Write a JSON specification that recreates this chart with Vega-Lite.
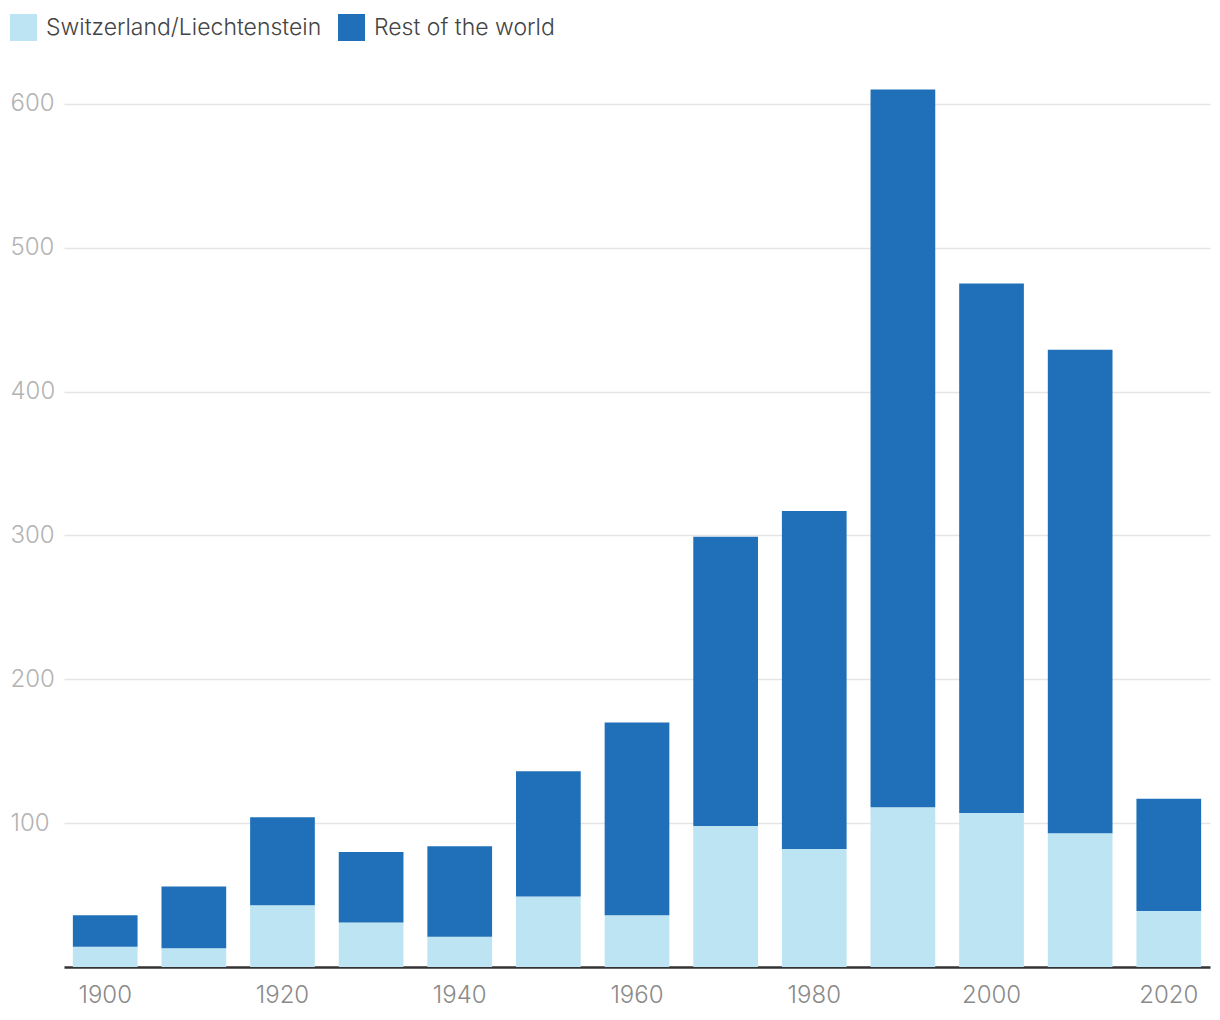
{
  "$schema": "https://vega.github.io/schema/vega-lite/v6.json",
  "width": 1146,
  "height": 892,
  "autosize": {"type": "none"},
  "padding": {"left": 64, "top": 75, "right": 10, "bottom": 53},
  "background": "white",
  "config": {"view": {"stroke": null}, "font": "Inter"},
  "data": {"values": [
    {"decade": "1900", "group": "Switzerland/Liechtenstein", "o": 1, "value": 14},
    {"decade": "1900", "group": "Rest of the world", "o": 2, "value": 22},
    {"decade": "1910", "group": "Switzerland/Liechtenstein", "o": 1, "value": 13},
    {"decade": "1910", "group": "Rest of the world", "o": 2, "value": 43},
    {"decade": "1920", "group": "Switzerland/Liechtenstein", "o": 1, "value": 43},
    {"decade": "1920", "group": "Rest of the world", "o": 2, "value": 61},
    {"decade": "1930", "group": "Switzerland/Liechtenstein", "o": 1, "value": 31},
    {"decade": "1930", "group": "Rest of the world", "o": 2, "value": 49},
    {"decade": "1940", "group": "Switzerland/Liechtenstein", "o": 1, "value": 21},
    {"decade": "1940", "group": "Rest of the world", "o": 2, "value": 63},
    {"decade": "1950", "group": "Switzerland/Liechtenstein", "o": 1, "value": 49},
    {"decade": "1950", "group": "Rest of the world", "o": 2, "value": 87},
    {"decade": "1960", "group": "Switzerland/Liechtenstein", "o": 1, "value": 36},
    {"decade": "1960", "group": "Rest of the world", "o": 2, "value": 134},
    {"decade": "1970", "group": "Switzerland/Liechtenstein", "o": 1, "value": 98},
    {"decade": "1970", "group": "Rest of the world", "o": 2, "value": 201},
    {"decade": "1980", "group": "Switzerland/Liechtenstein", "o": 1, "value": 82},
    {"decade": "1980", "group": "Rest of the world", "o": 2, "value": 235},
    {"decade": "1990", "group": "Switzerland/Liechtenstein", "o": 1, "value": 111},
    {"decade": "1990", "group": "Rest of the world", "o": 2, "value": 499},
    {"decade": "2000", "group": "Switzerland/Liechtenstein", "o": 1, "value": 107},
    {"decade": "2000", "group": "Rest of the world", "o": 2, "value": 368},
    {"decade": "2010", "group": "Switzerland/Liechtenstein", "o": 1, "value": 93},
    {"decade": "2010", "group": "Rest of the world", "o": 2, "value": 336},
    {"decade": "2020", "group": "Switzerland/Liechtenstein", "o": 1, "value": 39},
    {"decade": "2020", "group": "Rest of the world", "o": 2, "value": 78}
  ]},
  "mark": {"type": "bar"},
  "encoding": {
    "x": {
      "field": "decade", "type": "ordinal",
      "scale": {"paddingInner": 0.27, "paddingOuter": 0.1},
      "axis": {
        "title": null, "labelAngle": 0, "ticks": false,
        "labelExpr": "toNumber(datum.value) % 20 == 0 ? datum.value : ''",
        "labelFontSize": 24, "labelFontWeight": 300, "labelColor": "#8a8a8a", "labelFont": "Inter",
        "labelPadding": 16, "domainColor": "#333333", "domainWidth": 2.5
      }
    },
    "y": {
      "field": "value", "type": "quantitative", "aggregate": "sum",
      "stack": "zero",
      "scale": {"domain": [0, 620], "nice": false},
      "axis": {
        "title": null, "values": [100, 200, 300, 400, 500, 600],
        "ticks": false, "tickSize": 0, "domain": false,
        "labelAlign": "left", "labelBaseline": "middle", "labelPadding": 54,
        "labelFontSize": 24, "labelFontWeight": 300, "labelColor": "#b3b3b3", "labelFont": "Inter",
        "gridColor": "#e5e5e5", "gridWidth": 1.5
      }
    },
    "color": {
      "field": "group", "type": "nominal",
      "scale": {
        "domain": ["Switzerland/Liechtenstein", "Rest of the world"],
        "range": ["#bce4f2", "#1f70b8"]
      },
      "legend": {
        "title": null, "orient": "none", "direction": "horizontal",
        "legendX": -54, "legendY": -61,
        "symbolType": "square", "symbolSize": 729, "symbolStrokeWidth": 0,
        "symbolOpacity": 1,
        "labelFontSize": 23, "labelFontWeight": 300, "labelColor": "#444444", "labelFont": "Inter",
        "labelOffset": 9, "columnPadding": 16, "labelLimit": 400
      }
    },
    "order": {"field": "o", "type": "quantitative"}
  }
}
